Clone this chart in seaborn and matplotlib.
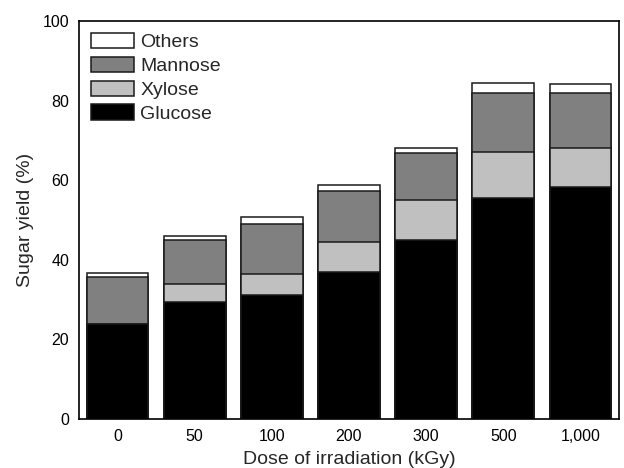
import numpy as np
import pandas as pd
import matplotlib
matplotlib.use("Agg")
import matplotlib.pyplot as plt
import seaborn as sns
from matplotlib.patches import Patch

doses = ["0", "50", "100", "200", "300", "500", "1,000"]
glucose = [23.9, 29.5, 31.1, 36.9, 44.9, 55.6, 58.2]
xylose = [0.0, 4.3, 5.4, 7.6, 10.2, 11.4, 9.8]
mannose = [11.8, 11.1, 12.5, 12.9, 11.7, 15.0, 13.8]
others = [1.1, 1.1, 1.8, 1.3, 1.3, 2.3, 2.4]

series = ["Glucose", "Xylose", "Mannose", "Others"]
colors = {"Glucose": "#000000", "Xylose": "#c0c0c0", "Mannose": "#808080", "Others": "#ffffff"}

df = pd.DataFrame({"dose": doses, "Glucose": glucose, "Xylose": xylose,
                   "Mannose": mannose, "Others": others})
cum = df[series].cumsum(axis=1)
cum["dose"] = df["dose"]

sns.set_style("white")
plt.rcParams["font.family"] = ["Liberation Sans", "DejaVu Sans"]

fig = plt.figure(figsize=(6.24, 4.68), dpi=100)
ax = fig.add_axes([79/624, 1 - 419/468, 540/624, 398/468])

for s in reversed(series):
    sns.barplot(data=cum, x="dose", y=s, order=doses, color=colors[s],
                width=0.8, edgecolor="#1a1a1a", linewidth=1.1,
                saturation=1, ax=ax, errorbar=None)

ax.set_xlim(-0.5, 6.5)
ax.set_ylim(0, 100)
ax.set_yticks([0, 20, 40, 60, 80, 100])
ax.tick_params(axis="both", length=0, labelsize=11.5, colors="black")
ax.tick_params(axis="y", pad=7)
ax.tick_params(axis="x", pad=7)
ax.set_xlabel("Dose of irradiation (kGy)", fontsize=14, labelpad=5)
ax.set_ylabel("Sugar yield (%)", fontsize=14, labelpad=6)
for sp in ax.spines.values():
    sp.set_visible(True)
    sp.set_color("black")
    sp.set_linewidth(1.2)

handles = [Patch(facecolor=colors[s], edgecolor="#1a1a1a", linewidth=1.1, label=s)
           for s in reversed(series)]
ax.legend(handles=handles, loc="upper left", bbox_to_anchor=(0.0, 1.0),
          frameon=False, fontsize=14, handlelength=2.25, handleheight=0.85,
          handletextpad=0.3, labelspacing=0.28, borderaxespad=0.3, borderpad=0.3)

fig.savefig("out.png", dpi=100)
